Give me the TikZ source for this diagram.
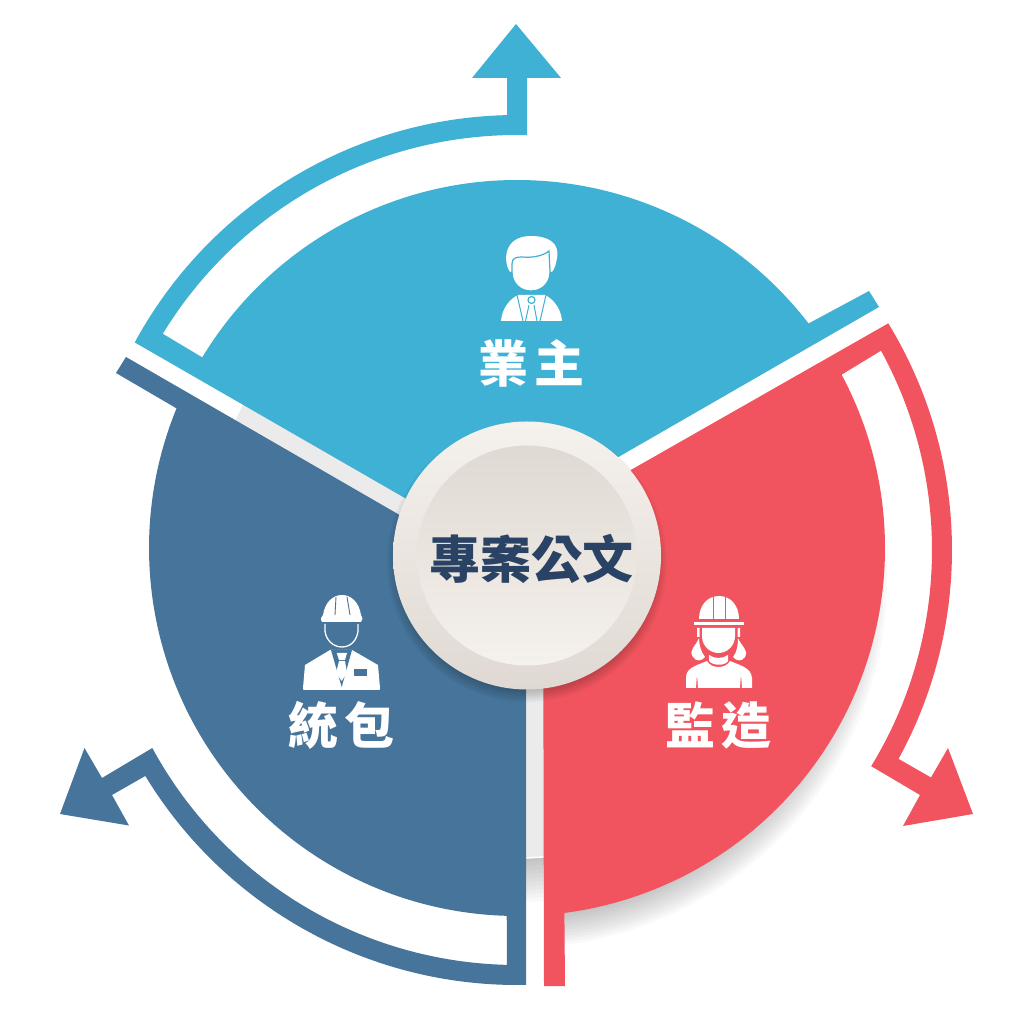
\documentclass[tikz,border=0pt]{standalone}
\usepackage{fontspec}
\usepackage{tikz}
\usetikzlibrary{calc}
\newfontfamily\cjk{Noto Sans CJK TC}
\definecolor{ownerblue}{HTML}{3EB1D4}
\definecolor{buildersteel}{HTML}{47749A}
\definecolor{inspectorred}{HTML}{F2545F}
\definecolor{hubtext}{HTML}{2A4365}
\definecolor{hublight}{HTML}{F5F1EC}
\definecolor{hubdark}{HTML}{E0D9D3}
\tikzset{
	rolelabel/.style = {text = white, font = \cjk\bfseries\fontsize{50}{50}\selectfont, inner sep = 0},
	hublabel/.style = {text = hubtext, font = \cjk\bfseries\fontsize{51}{51}\selectfont, inner sep = 0},
	softlayer/.style = {fill = black, fill opacity = 0.022}
}

\begin{document}
\begin{tikzpicture}[x = 1pt, y = 1pt]
	\useasboundingbox (0, 0) rectangle (1024, 1009);
	\coordinate (bandc) at (517, 459);
	\coordinate (diskc) at (517, 461);
	\coordinate (hubc) at (527, 453.5);

	% backdrop disk and the shadows below it
	\begin{scope}
		\clip (0, 0) rectangle (600, 1009);
		\foreach \r in {280, 284, ..., 324}
		\fill[softlayer] (517, 431) circle (\r);
		\shade[top color = black!8, middle color = black!3, bottom color = black!8] (diskc) circle (310);
		\draw[white, line width = 1.5] (diskc) circle (310);
	\end{scope}
	\begin{scope}
		\clip (545, 0) rectangle (1024, 469);
		\foreach \r in {340, 343, ..., 372}
		\fill[softlayer] (517, 431) circle (\r);
	\end{scope}

	% blue sector with its arrow
	\fill[ownerblue] (bandc) ++(151.5:435pt) arc[start angle = 151.5, end angle = 91.3, radius = 435pt]
		-- (507, 931) -- (472, 931) -- (516, 985) -- (561, 931) -- (527, 931)
		-- ($(bandc) + (88.6:415)$) arc[start angle = 88.6, end angle = 148.6, radius = 415pt]
		-- ($(diskc) + (148.8:368)$) arc[start angle = 148.8, end angle = 37.6, radius = 368pt]
		-- (869, 718) -- (879, 702) -- (476, 470) -- cycle;

	% dark sector with its arrow
	\fill[buildersteel] (526, 421) -- (126, 652) -- (116, 636) -- ($(diskc) + (157.7:368)$)
		arc[start angle = 157.7, end angle = 268.4, radius = 368pt]
		-- ($(bandc) + (268.6:415)$) arc[start angle = 268.6, end angle = 208.5, radius = 415pt]
		-- (102, 231) -- (84.5, 261) -- (60, 195) -- (129, 183.5) -- (112, 214)
		-- ($(bandc) + (211.3:435)$) arc[start angle = 211.3, end angle = 271.2, radius = 435pt]
		-- cycle;

	% red sector with its arrow
	\fill[inspectorred] (543, 489) -- ($(bandc) + (31.4:435)$)
		arc[start angle = 31.4, end angle = -28.7, radius = 435pt]
		-- (931, 231.5) -- (948, 261) -- (973, 195) -- (903, 183) -- (920, 214)
		-- ($(bandc) + (-31.4:415)$) arc[start angle = -31.4, end angle = 28.7, radius = 415pt]
		-- ($(diskc) + (28.1:368)$) arc[start angle = 28.1, end angle = -82.6, radius = 368pt]
		-- (565, 23) -- (544, 23) -- cycle;

	% centre button
	\foreach \r in {0, 2, ..., 14}
	\fill[softlayer, fill opacity = 0.035] (527, 447) circle ({126 + \r});
	\shade[top color = hublight, bottom color = hubdark] (hubc) circle (134);
	\shade[top color = hubdark, bottom color = hublight] (hubc) circle (110);
	\node[hublabel] (hub) at (531.5, 450) {專案公文};

	\node[rolelabel] (owner) at (531, 646) {業\hspace{6pt}主};
	\node[rolelabel] (builder) at (341, 284) {統\hspace{6pt}包};
	\node[rolelabel] (inspector) at (718.5, 284) {監\hspace{6pt}造};

	% the three figures, in picture coordinates counted from the top
	\begin{scope}[yshift = 1009pt, yscale = -1]
		% owner
		\fill[white] (510, 272) .. controls (503, 262) and (503, 236) .. (531, 236) .. controls (548, 236) and (560, 243) .. (557, 258) .. controls (556, 264) and (555, 268) .. (552, 272) -- (531, 265) -- cycle;
		\filldraw[fill = white, draw = ownerblue, line width = 1.2] (512, 264) .. controls (512, 258) and (516, 257) .. (522, 257) .. controls (532, 258) and (543, 256) .. (549, 251) -- (550, 272) .. controls (550, 284) and (541, 291) .. (531, 291) .. controls (521, 291) and (512, 284) .. (512, 272) -- cycle;
		\fill[white] (501, 321) .. controls (502, 308) and (510, 299) .. (518, 295) -- (545, 295) .. controls (553, 299) and (561, 308) .. (562, 321) -- cycle;
		\draw[ownerblue, line width = 1] (517, 295) -- (523, 321) (546, 295) -- (540, 321) (525.5, 321) -- (529, 305) (537, 321) -- (534, 305);
		\draw[ownerblue, line width = 1.2] (531.5, 300) circle (3.5);
		% builder
		\fill[white] (322, 622) .. controls (320, 619) and (321, 617) .. (323, 615) .. controls (325, 602) and (333, 595) .. (342, 595) .. controls (351, 595) and (359, 602) .. (361, 615) .. controls (363, 617) and (363, 620) .. (361, 622) -- cycle;
		\draw[buildersteel, line width = 0.9] (336, 597) -- (335, 615) (347, 597) -- (350, 615);
		\draw[white, line width = 1.3] (325, 624) -- (325, 631) .. controls (326, 640) and (333, 647) .. (342, 647) .. controls (351, 647) and (357, 640) .. (358, 631) -- (358, 624);
		\fill[white] (304, 690) .. controls (303, 690) and (303, 689) .. (303, 688) -- (305, 665) -- (330, 650) -- (352, 650) -- (378, 665) -- (380, 688) .. controls (380, 689) and (380, 690) .. (379, 690) -- cycle;
		\fill[buildersteel] (331, 650) -- (341.7, 687) -- (352, 650) -- cycle;
		\fill[white] (336.7, 653) -- (347, 653) -- (345, 660) -- (339, 660) -- cycle (339, 661) -- (345, 661) -- (347, 673) -- (341.7, 681) -- (336, 673) -- cycle;
		\fill[buildersteel] (353.5, 669) rectangle (366.7, 676);
		% inspector
		\fill[white] (699, 619) .. controls (699, 606) and (707, 596) .. (719, 596) .. controls (731, 596) and (739, 606) .. (739, 619) -- cycle;
		\draw[inspectorred, line width = 1] (713.3, 596) -- (713.3, 619) (725, 596) -- (725, 619);
		\fill[white] (694.3, 622) rectangle (744, 625);
		\fill[white] (702, 628) -- (735, 628) -- (735, 636) .. controls (735, 646) and (727, 653) .. (718.5, 653) .. controls (710, 653) and (702, 646) .. (702, 636) -- cycle;
		\fill[white] (697, 628) rectangle (699.5, 637) (737.5, 628) rectangle (740, 637);
		\fill[white] (699, 638) .. controls (696, 646) and (688, 650) .. (693, 657) .. controls (696, 662) and (702, 661) .. (705, 657) .. controls (701, 652) and (699, 645) .. (699, 638) -- cycle;
		\fill[white] (738, 638) .. controls (741, 646) and (749, 650) .. (745, 657) .. controls (742, 662) and (736, 661) .. (733, 657) .. controls (737, 652) and (738, 645) .. (738, 638) -- cycle;
		\fill[white] (709, 655) .. controls (715, 659) and (722, 659) .. (728, 655) -- (728, 661) .. controls (725, 666) and (713, 666) .. (709, 661) -- cycle;
		\fill[white] (686, 688) -- (686, 678) .. controls (686, 668) and (695, 666) .. (707, 661) .. controls (711, 669) and (726, 669) .. (730, 661) .. controls (742, 666) and (751, 668) .. (752, 678) -- (752, 688) -- (742, 688) -- (741, 674) -- (740, 688) -- (698, 688) -- (697, 674) -- (696, 688) -- cycle;
	\end{scope}
\end{tikzpicture}
\end{document}
